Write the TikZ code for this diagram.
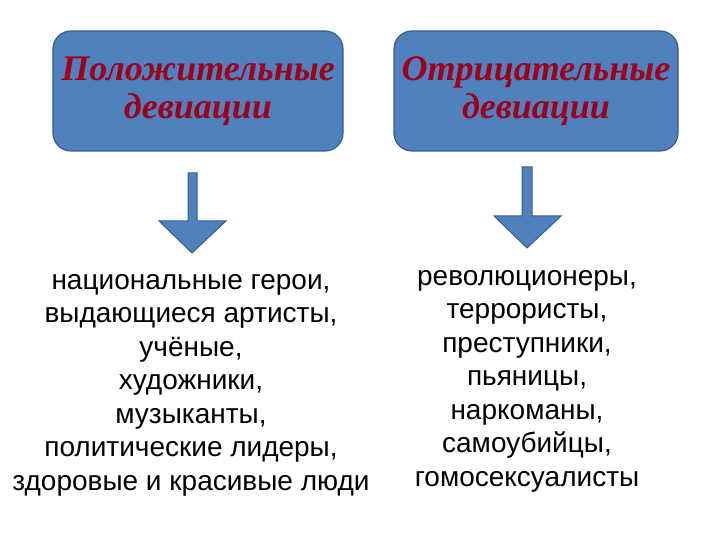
\documentclass[tikz,border=0pt]{standalone}
\usepackage{fontspec}
\setmainfont{Liberation Sans}
\newfontfamily\boxfont{Liberation Serif}
\definecolor{boxblue}{HTML}{4F81BD}
\definecolor{boxedge}{HTML}{385D8A}
\definecolor{darkred}{RGB}{158,0,28}
\tikzset{
  devbox/.style={draw=boxedge, line width=1.2pt, fill=boxblue, rounded corners=18pt,
    minimum width=#1, minimum height=120pt, align=center, text=darkred,
    font=\boxfont\bfseries\itshape\fontsize{36}{38}\selectfont},
  devlist/.style={align=center, font=\fontsize{28}{33.5}\selectfont},
  blockarrow/.style={draw=boxedge, line width=1pt, fill=boxblue}
}
\begin{document}
\begin{tikzpicture}[x=1pt,y=-1pt]
\useasboundingbox (0,0) rectangle (720,540);

% Boxes
\node[devbox=290pt] (pos) at (198,91) {Положительные\\девиации};
\node[devbox=284pt] (neg) at (536,91) {Отрицательные\\девиации};

% Lists
\node[devlist] (poslist) at (191,385) {национальные герои,\\выдающиеся артисты,\\учёные,\\художники,\\музыканты,\\политические лидеры,\\здоровые и красивые люди};
\node[devlist] (neglist) at (527,381) {революционеры,\\террористы,\\преступники,\\пьяницы,\\наркоманы,\\самоубийцы,\\гомосексуалисты};

% Arrows
\draw[blockarrow] (188,173) -- (197,173) -- (197,221) -- (226,221) -- (192,253)
  -- (159,221) -- (188,221) -- cycle;
\draw[blockarrow] (522,167) -- (532,167) -- (532,216) -- (561,216) -- (527,248)
  -- (494,216) -- (522,216) -- cycle;
\end{tikzpicture}
\end{document}
